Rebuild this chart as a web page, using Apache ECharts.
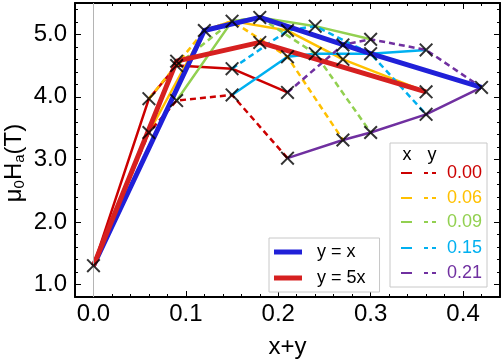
<!DOCTYPE html>
<html>
<head>
<meta charset="utf-8">
<script src="https://cdn.jsdelivr.net/npm/echarts@6/dist/echarts.min.js"></script>
<style>
  html, body { margin: 0; padding: 0; background: #fff; }
  #chart { width: 503px; height: 362px; }
</style>
</head>
<body>
<div id="chart"></div>
<script>
// x+y values and mu0Ha (T)
// solid lines: fixed x
const sumX00 = [0, 0.06, 0.09, 0.15, 0.21];
const haX00 = [1.3, 3.97, 4.5, 4.45, 4.07];
const sumX06 = [0.06, 0.12, 0.15, 0.21, 0.27, 0.36];
const haX06 = [3.43, 5.06, 5.21, 5.06, 4.6, 4.08];
const sumX09 = [0.09, 0.15, 0.18, 0.24, 0.30];
const haX09 = [3.94, 5.21, 5.27, 5.13, 4.92];
const sumX15 = [0.15, 0.21, 0.24, 0.30, 0.36];
const haX15 = [4.03, 4.64, 4.69, 4.69, 4.75];
const sumX21 = [0.21, 0.27, 0.30, 0.36, 0.42];
const haX21 = [3.02, 3.31, 3.43, 3.72, 4.15];
// dashed lines: fixed y
const sumY00 = [0, 0.06, 0.09, 0.15, 0.21];
const haY00 = [1.3, 3.43, 3.94, 4.03, 3.02];
const sumY06 = [0.06, 0.12, 0.15, 0.21, 0.27];
const haY06 = [3.97, 5.06, 5.21, 4.64, 3.31];
const sumY09 = [0.09, 0.15, 0.18, 0.24, 0.30];
const haY09 = [4.5, 5.21, 5.27, 4.69, 3.43];
const sumY15 = [0.15, 0.21, 0.24, 0.30, 0.36];
const haY15 = [4.45, 5.06, 5.13, 4.69, 3.72];
const sumY21 = [0.21, 0.27, 0.30, 0.36, 0.42];
const haY21 = [4.07, 4.83, 4.92, 4.75, 4.15];
// thick lines
const sumYeqX = [0, 0.12, 0.18, 0.30, 0.42];
const haYeqX = [1.3, 5.06, 5.27, 4.69, 4.15];
const sumY5X = [0, 0.09, 0.18, 0.36];
const haY5X = [1.3, 4.57, 4.87, 4.08];

const compValues = ['0.00', '0.06', '0.09', '0.15', '0.21'];
const compColors = ['#cc0000', '#ffc000', '#92d050', '#00b0f0', '#7030a0'];
const xTicks = [0, 0.1, 0.2, 0.3, 0.4];
const yTicks = [1, 2, 3, 4, 5];

const FONT = 'Liberation Sans';

function pairs(xs, ys) {
  return xs.map((v, i) => [v, ys[i]]);
}

function steps(from, to, step) {
  let out = [];
  for (let v = from; v <= to + 1e-9; v += step) out.push(+v.toFixed(3));
  return out;
}

const xMinor = steps(-0.02, 0.44, 0.02);
const yMinor = steps(0.8, 5.4, 0.2);

const solidSets = [[sumX00, haX00], [sumX06, haX06], [sumX09, haX09], [sumX15, haX15], [sumX21, haX21]];
const dashSets = [[sumY00, haY00], [sumY06, haY06], [sumY09, haY09], [sumY15, haY15], [sumY21, haY21]];

let series = [];
solidSets.forEach((s, i) => {
  series.push({
    name: 'x = ' + compValues[i], type: 'line', data: pairs(s[0], s[1]),
    symbol: 'none', lineStyle: {color: compColors[i], width: 2.5}, z: 2
  });
});
dashSets.forEach((s, i) => {
  series.push({
    name: 'y = ' + compValues[i], type: 'line', data: pairs(s[0], s[1]),
    symbol: 'none', lineStyle: {color: compColors[i], width: 2.5, type: [6, 4]}, z: 2
  });
});
series.push({
  name: 'y = x', type: 'line', data: pairs(sumYeqX, haYeqX), symbol: 'none',
  itemStyle: {color: '#2020d8'}, lineStyle: {color: '#2020d8', width: 5}, z: 3
});
series.push({
  name: 'y = 5x', type: 'line', data: pairs(sumY5X, haY5X), symbol: 'none',
  itemStyle: {color: '#d62020'}, lineStyle: {color: '#d62020', width: 5}, z: 4
});

// gray line at x+y = 0
series[0].markLine = {
  silent: true, symbol: 'none', label: {show: false},
  lineStyle: {color: '#b4b4b4', width: 1, type: 'solid'},
  data: [{xAxis: 0}]
};

// black crosses on every measured point
let seen = {};
let marks = [];
series.forEach(s => {
  s.data.forEach(p => {
    const key = p[0] + '_' + p[1];
    if (!seen[key]) { seen[key] = 1; marks.push(p); }
  });
});
series.push({
  name: 'points', type: 'scatter', data: marks, z: 10,
  symbol: 'path://M1,0 L5,4 L9,0 L10,1 L6,5 L10,9 L9,10 L5,6 L1,10 L0,9 L4,5 L0,1 Z',
  symbolSize: 14, itemStyle: {color: '#000'}
});

function xAxisDef(pos, ticks, len, major) {
  return {
    type: 'value', position: pos, min: -0.02, max: 0.44,
    name: (major && pos === 'bottom') ? 'x+y' : '',
    nameLocation: 'middle', nameGap: 38,
    nameTextStyle: {fontFamily: FONT, fontSize: 24, color: '#000'},
    axisLine: {show: major, onZero: false, lineStyle: {color: '#000', width: 2}},
    axisTick: {show: true, inside: true, length: len, customValues: ticks, lineStyle: {color: '#000', width: 1}},
    axisLabel: {
      show: major && pos === 'bottom', customValues: xTicks, margin: 5,
      fontFamily: FONT, fontSize: 24, color: '#000', formatter: v => v.toFixed(1)
    },
    splitLine: {show: false}
  };
}

function yAxisDef(pos, ticks, len, major) {
  return {
    type: 'value', position: pos, min: 0.8, max: 5.5,
    axisLine: {show: major, onZero: false, lineStyle: {color: '#000', width: 2}},
    axisTick: {show: true, inside: true, length: len, customValues: ticks, lineStyle: {color: '#000', width: 1}},
    axisLabel: {
      show: major && pos === 'left', customValues: yTicks, margin: 8,
      fontFamily: FONT, fontSize: 24, color: '#000', formatter: v => v.toFixed(1)
    },
    splitLine: {show: false}
  };
}

// y axis title with subscripts
const yTitle = {
  type: 'text', x: 14, y: 163, rotation: Math.PI / 2,
  style: {
    text: '{n|μ}{s|0}{n|H}{s|a}{n|(T)}', align: 'center', verticalAlign: 'middle',
    rich: {
      n: {fontFamily: FONT, fontSize: 24, fill: '#000', lineHeight: 26},
      s: {fontFamily: FONT, fontSize: 15, fill: '#000', lineHeight: 13, verticalAlign: 'bottom'}
    }
  }
};

// legend box for x / y compositions
const boxX = 390, boxY = 143, rowY = [173, 198, 222, 248, 273];
let legendItems = [
  {type: 'rect', shape: {x: boxX, y: boxY, width: 97, height: 144},
   style: {fill: '#fff', stroke: '#c8c8c8', lineWidth: 1}},
  {type: 'text', x: 407, y: 155, style: {text: 'x', fill: '#000', font: '18px ' + FONT, align: 'center', verticalAlign: 'middle'}},
  {type: 'text', x: 432, y: 155, style: {text: 'y', fill: '#000', font: '18px ' + FONT, align: 'center', verticalAlign: 'middle'}}
];
compValues.forEach((v, i) => {
  legendItems.push({type: 'line', shape: {x1: 401, y1: rowY[i], x2: 412, y2: rowY[i]},
    style: {stroke: compColors[i], lineWidth: 2}});
  legendItems.push({type: 'line', shape: {x1: 424, y1: rowY[i], x2: 439, y2: rowY[i]},
    style: {stroke: compColors[i], lineWidth: 2, lineDash: [4, 4]}});
  legendItems.push({type: 'text', x: 482, y: rowY[i],
    style: {text: v, fill: compColors[i], font: '18px ' + FONT, align: 'right', verticalAlign: 'middle'}});
});

let myChart = echarts.init(document.getElementById('chart'), null, {renderer: 'canvas'});
let option = {
  animation: false,
  backgroundColor: '#fff',
  grid: {left: 75, right: 3, top: 3, bottom: 65, outerBoundsMode: 'none'},
  xAxis: [
    xAxisDef('bottom', xTicks, 6, true),
    xAxisDef('bottom', xMinor, 3, false),
    xAxisDef('top', xTicks, 6, true),
    xAxisDef('top', xMinor, 3, false)
  ],
  yAxis: [
    yAxisDef('left', yTicks, 6, true),
    yAxisDef('left', yMinor, 3, false),
    yAxisDef('right', yTicks, 6, true),
    yAxisDef('right', yMinor, 3, false)
  ],
  legend: {
    data: ['y = x', 'y = 5x'],
    orient: 'vertical', left: 269, top: 238,
    icon: 'rect', itemWidth: 28, itemHeight: 5, itemGap: 6,
    padding: [4, 14, 4, 5],
    backgroundColor: '#fff', borderColor: '#c8c8c8', borderWidth: 1,
    textStyle: {fontFamily: FONT, fontSize: 18, color: '#000', padding: [0, 0, 0, 10], lineHeight: 20}
  },
  graphic: {elements: [yTitle, {type: 'group', z: 100, children: legendItems}]},
  series: series
};
myChart.setOption(option);
</script>
</body>
</html>
